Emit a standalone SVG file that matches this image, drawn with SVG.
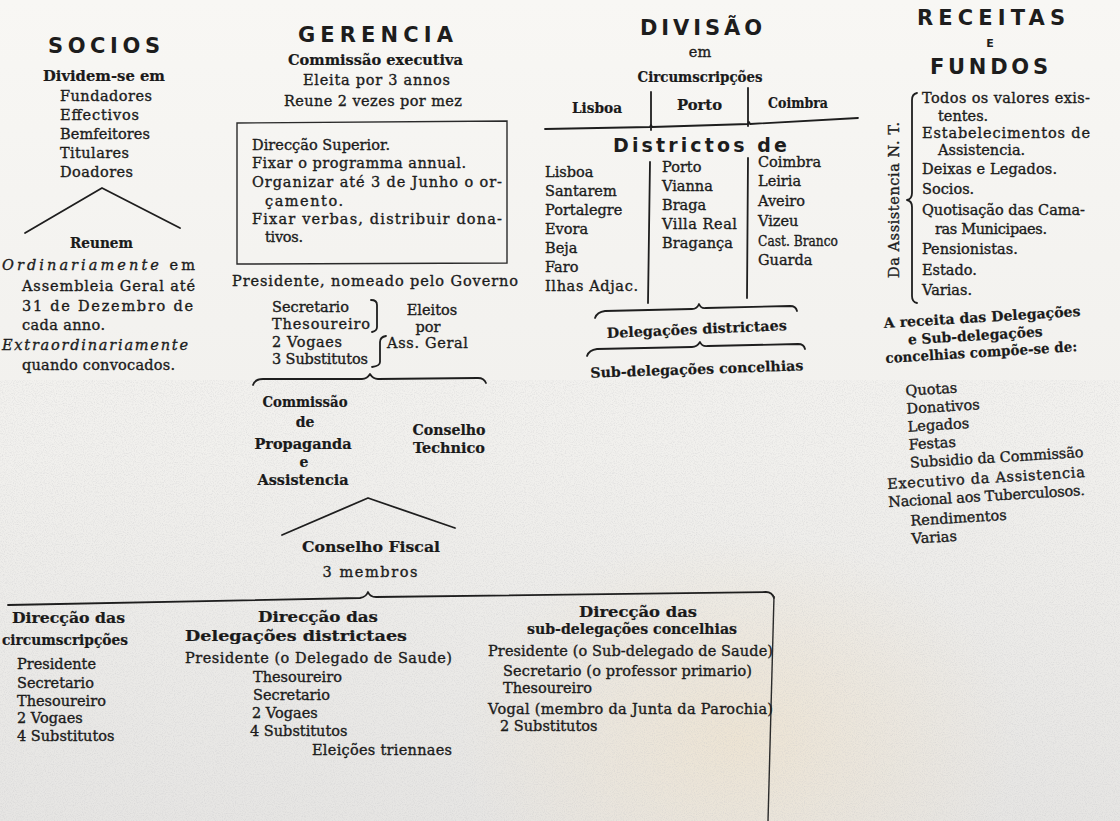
<svg xmlns="http://www.w3.org/2000/svg" width="1120" height="821" viewBox="0 0 1120 821">
<defs>
<linearGradient id="paper" x1="0" y1="0" x2="0" y2="1">
<stop offset="0" stop-color="#f8f7f4"/>
<stop offset="0.55" stop-color="#f1f0ed"/>
<stop offset="1" stop-color="#e6e5e3"/>
</linearGradient>
<radialGradient id="tint" cx="0.66" cy="0.9" r="0.25">
<stop offset="0" stop-color="#eee3cf" stop-opacity="0.8"/>
<stop offset="1" stop-color="#eee3cf" stop-opacity="0"/>
</radialGradient>
<filter id="grain" x="0" y="0" width="100%" height="100%">
<feTurbulence type="fractalNoise" baseFrequency="0.9" numOctaves="2" seed="3"/>
<feColorMatrix type="matrix" values="0 0 0 0 0.55  0 0 0 0 0.55  0 0 0 0 0.57  0 0 0 -2.2 1.25"/>
</filter>
<style>
.hd{font-family:"DejaVu Sans","Liberation Sans",sans-serif;font-weight:bold;font-size:21px;fill:#1d1d1d}
.t{font-family:"DejaVu Serif","Liberation Serif",serif;font-size:14.5px;fill:#1c1c1c;stroke:#1c1c1c;stroke-width:0.35}
.b{font-family:"DejaVu Serif","Liberation Serif",serif;font-weight:bold;font-size:14px;fill:#1a1a1a;stroke:#1a1a1a;stroke-width:0.2}
.i{font-style:italic}
.c{text-anchor:middle}
.ln{fill:none;stroke:#1e1e1e;stroke-width:1.8;stroke-linecap:round;stroke-linejoin:round}
.thin{fill:none;stroke:#2a2a2a;stroke-width:1.4}
</style>
</defs>
<rect width="1120" height="821" fill="url(#paper)"/>
<rect width="1120" height="821" fill="url(#tint)"/>
<rect y="380" width="1120" height="441" filter="url(#grain)" opacity="0.35"/>

<g id="connectors">
<path id="chevron-socios" class="ln" d="M25,233 L102,188 L180,228"/>
<path id="brace-gerencia" class="ln" d="M253,385 Q255,379 263,379 L362,379 Q367,379 370,374 Q373,379 378,379 L478,378 Q484,378 486,383"/>
<path id="chevron-fiscal" class="ln" d="M282,535 L368,498 L455,528"/>
<path id="bracket-eleitos-1" class="ln" d="M371,300 Q377,300 377,305 L377,327 Q377,331 372,332"/>
<path id="bracket-eleitos-2" class="ln" d="M386,336 Q380,337 380,342 L380,362 Q380,366 372,367"/>
<path id="divisao-rule" class="ln" d="M545,129 L650,127 L651,125 L652,127 L748,124 L749,122 L750,124 L858,118"/>
<path id="divider-head-1" class="ln" d="M651,92 L651,130"/>
<path id="divider-head-2" class="ln" d="M748,88 L748,126"/>
<path id="divider-col-1" class="ln" d="M650,162 L648,303"/>
<path id="divider-col-2" class="ln" d="M748,158 L747,298"/>
<path id="brace-delegacoes" class="ln" d="M595,318 Q597,312 605,311 L692,309 Q697,309 699,304 Q701,309 706,308 L790,306 Q796,306 797,311"/>
<path id="brace-sub" class="ln" d="M587,356 Q589,350 597,349 L692,347 Q697,347 700,342 Q702,347 708,346 L798,344 Q804,344 805,349"/>
<path id="brace-receitas" class="ln" d="M917,93 Q912,94 912,100 L912,193 Q912,199 907,200 Q912,201 912,207 L912,296 Q912,302 917,303"/>
<path id="bottom-rule" class="ln" d="M8,605 L360,598 Q366,597 368,592 Q370,597 376,597 L766,592 Q772,592 774,598"/>
<path id="bottom-vertical" class="thin" d="M774,596 L768,821"/>
</g>

<g id="socios">
<text class="hd" x="48" y="53" textLength="112" lengthAdjust="spacing">SOCIOS</text>
<text class="b" x="43" y="81" textLength="122" lengthAdjust="spacingAndGlyphs">Dividem-se em</text>
<text class="t" x="60" y="101" textLength="92">Fundadores</text>
<text class="t" x="60" y="120" textLength="79">Effectivos</text>
<text class="t" x="60" y="139" textLength="90">Bemfeitores</text>
<text class="t" x="60" y="158" textLength="69">Titulares</text>
<text class="t" x="60" y="177" textLength="73">Doadores</text>
</g>

<g id="socios-reunem">
<text class="b" x="70" y="248" textLength="63" lengthAdjust="spacingAndGlyphs">Reunem</text>
<text class="t" x="2" y="270" textLength="193"><tspan class="i">Ordinariamente</tspan> em</text>
<text class="t" x="22" y="291" textLength="173">Assembleia Geral até</text>
<text class="t" x="22" y="311" textLength="171">31 de Dezembro de</text>
<text class="t" x="22" y="330" textLength="83">cada anno.</text>
<text class="t i" x="2" y="350" textLength="186">Extraordinariamente</text>
<text class="t" x="22" y="370" textLength="153">quando convocados.</text>
</g>

<g id="gerencia">
<text class="hd" x="298" y="42" textLength="155" lengthAdjust="spacing">GERENCIA</text>
<text class="b" x="288" y="65" textLength="175" lengthAdjust="spacingAndGlyphs">Commissão executiva</text>
<text class="t" x="303" y="85" textLength="147">Eleita por 3 annos</text>
<text class="t" x="284" y="106" textLength="178">Reune 2 vezes por mez</text>
</g>

<g id="gerencia-box">
<path class="thin" d="M237,123 L507,121 L507,263 L237,264 Z"/>
<text class="t" x="252" y="150" textLength="138">Direcção Superior.</text>
<text class="t" x="252" y="168" textLength="214">Fixar o programma annual.</text>
<text class="t" x="252" y="187" textLength="250">Organizar até 3 de Junho o or-</text>
<text class="t" x="265" y="206" textLength="78">çamento.</text>
<text class="t" x="252" y="224" textLength="250">Fixar verbas, distribuir dona-</text>
<text class="t" x="265" y="242" textLength="38">tivos.</text>
</g>

<g id="gerencia-officers">
<text class="t" x="232" y="286" textLength="286">Presidente, nomeado pelo Governo</text>
<text class="t" x="272" y="312" textLength="77">Secretario</text>
<text class="t" x="272" y="329" textLength="98">Thesoureiro</text>
<text class="t" x="272" y="347" textLength="70">2 Vogaes</text>
<text class="t" x="272" y="364" textLength="96">3 Substitutos</text>
<text class="t c" x="432" y="315">Eleitos</text>
<text class="t c" x="428" y="332">por</text>
<text class="t" x="387" y="348" textLength="81">Ass. Geral</text>
</g>

<g id="commissao-propaganda">
<text class="b c" x="305" y="407" textLength="85" lengthAdjust="spacingAndGlyphs">Commissão</text>
<text class="b c" x="305" y="427">de</text>
<text class="b c" x="303" y="449" textLength="97" lengthAdjust="spacingAndGlyphs">Propaganda</text>
<text class="b c" x="304" y="467">e</text>
<text class="b c" x="303" y="485" textLength="91" lengthAdjust="spacingAndGlyphs">Assistencia</text>
</g>

<g id="conselho-technico">
<text class="b c" x="449" y="435" textLength="73" lengthAdjust="spacingAndGlyphs">Conselho</text>
<text class="b c" x="449" y="453" textLength="72" lengthAdjust="spacingAndGlyphs">Technico</text>
</g>

<g id="conselho-fiscal">
<text class="b c" x="371" y="552" textLength="138" lengthAdjust="spacingAndGlyphs">Conselho Fiscal</text>
<text class="t c" x="370" y="577" textLength="95">3 membros</text>
</g>

<g id="divisao">
<text class="hd" x="640" y="35" textLength="122" lengthAdjust="spacing">DIVISÃO</text>
<text class="t c" x="700" y="57">em</text>
<text class="b c" x="700" y="82" textLength="125" lengthAdjust="spacingAndGlyphs">Circumscripções</text>
<text class="b" x="572" y="113" textLength="50" lengthAdjust="spacingAndGlyphs">Lisboa</text>
<text class="b" x="677" y="110" textLength="45" lengthAdjust="spacingAndGlyphs">Porto</text>
<text class="b" x="768" y="108" textLength="60" lengthAdjust="spacingAndGlyphs">Coimbra</text>
</g>

<g id="districtos">
<text class="hd" x="613" y="152" style="font-size:19px" textLength="174" lengthAdjust="spacing">Districtos de</text>
<text class="t" x="545" y="177">Lisboa</text>
<text class="t" x="545" y="196">Santarem</text>
<text class="t" x="545" y="215">Portalegre</text>
<text class="t" x="545" y="234">Evora</text>
<text class="t" x="545" y="253">Beja</text>
<text class="t" x="545" y="272">Faro</text>
<text class="t" x="545" y="291" textLength="93">Ilhas Adjac.</text>
<text class="t" x="662" y="172">Porto</text>
<text class="t" x="662" y="191">Vianna</text>
<text class="t" x="662" y="210">Braga</text>
<text class="t" x="662" y="229" textLength="75">Villa Real</text>
<text class="t" x="662" y="248" textLength="71">Bragança</text>
<text class="t" x="758" y="167">Coimbra</text>
<text class="t" x="758" y="186">Leiria</text>
<text class="t" x="758" y="206">Aveiro</text>
<text class="t" x="758" y="226">Vizeu</text>
<text class="t" x="758" y="246" textLength="80" lengthAdjust="spacingAndGlyphs">Cast. Branco</text>
<text class="t" x="758" y="265">Guarda</text>
</g>

<g id="delegacoes">
<text class="b c" x="697" y="334" transform="rotate(-2.5 697 334)" textLength="180" lengthAdjust="spacingAndGlyphs">Delegações districtaes</text>
<text class="b c" x="697" y="374" transform="rotate(-2 697 374)" textLength="213" lengthAdjust="spacingAndGlyphs">Sub-delegações concelhias</text>
</g>

<g id="receitas">
<text class="hd" x="917" y="25" textLength="148" lengthAdjust="spacing">RECEITAS</text>
<text class="hd c" x="990" y="47" style="font-size:11px">E</text>
<text class="hd" x="930" y="74" textLength="118" lengthAdjust="spacing">FUNDOS</text>
<text class="t c" x="899" y="200" transform="rotate(-90 899 200)" textLength="156">Da Assistencia N. T.</text>
<text class="t" x="922" y="103" textLength="168">Todos os valores exis-</text>
<text class="t" x="938" y="121">tentes.</text>
<text class="t" x="922" y="138" textLength="168">Estabelecimentos   de</text>
<text class="t" x="938" y="155">Assistencia.</text>
<text class="t" x="922" y="174" textLength="135">Deixas e Legados.</text>
<text class="t" x="922" y="194">Socios.</text>
<text class="t" x="922" y="215" textLength="163">Quotisação das Cama-</text>
<text class="t" x="935" y="234" textLength="112">ras Municipaes.</text>
<text class="t" x="922" y="254">Pensionistas.</text>
<text class="t" x="922" y="275">Estado.</text>
<text class="t" x="922" y="295">Varias.</text>
</g>

<g id="receita-delegacoes" transform="rotate(-3.5 985 430)">
<text class="b c" x="989" y="322" textLength="197" lengthAdjust="spacingAndGlyphs">A receita das Delegações</text>
<text class="b c" x="981" y="340" textLength="135" lengthAdjust="spacingAndGlyphs">e Sub-delegações</text>
<text class="b c" x="986" y="357" textLength="192" lengthAdjust="spacingAndGlyphs">concelhias compõe-se de:</text>
<text class="t" x="908" y="391">Quotas</text>
<text class="t" x="908" y="409">Donativos</text>
<text class="t" x="908" y="427">Legados</text>
<text class="t" x="908" y="445">Festas</text>
<text class="t" x="908" y="463" textLength="174">Subsidio da Commissão</text>
<text class="t" x="884" y="483" textLength="198">Executivo  da  Assistencia</text>
<text class="t" x="884" y="501" textLength="197">Nacional aos Tuberculosos.</text>
<text class="t" x="905" y="521">Rendimentos</text>
<text class="t" x="905" y="539">Varias</text>
</g>

<g id="direccao-circumscripcoes">
<text class="b" x="12" y="623" textLength="113" lengthAdjust="spacingAndGlyphs">Direcção das</text>
<text class="b" x="2" y="645" textLength="126" lengthAdjust="spacingAndGlyphs">circumscripções</text>
<text class="t" x="17" y="669">Presidente</text>
<text class="t" x="17" y="688">Secretario</text>
<text class="t" x="17" y="706">Thesoureiro</text>
<text class="t" x="17" y="723">2 Vogaes</text>
<text class="t" x="17" y="741">4 Substitutos</text>
</g>

<g id="direccao-delegacoes">
<text class="b c" x="318" y="622" textLength="120" lengthAdjust="spacingAndGlyphs">Direcção das</text>
<text class="b c" x="296" y="641" textLength="222" lengthAdjust="spacingAndGlyphs">Delegações districtaes</text>
<text class="t" x="185" y="663" textLength="267">Presidente (o Delegado de Saude)</text>
<text class="t" x="253" y="682">Thesoureiro</text>
<text class="t" x="253" y="700">Secretario</text>
<text class="t" x="252" y="718">2 Vogaes</text>
<text class="t" x="250" y="736">4 Substitutos</text>
<text class="t" x="312" y="755" textLength="140">Eleições triennaes</text>
</g>

<g id="direccao-subdelegacoes">
<text class="b c" x="638" y="617" textLength="118" lengthAdjust="spacingAndGlyphs">Direcção das</text>
<text class="b c" x="632" y="634" textLength="210" lengthAdjust="spacingAndGlyphs">sub-delegações concelhias</text>
<text class="t" x="488" y="656" textLength="285">Presidente (o Sub-delegado de Saude)</text>
<text class="t" x="503" y="676" textLength="249">Secretario (o professor primario)</text>
<text class="t" x="503" y="693">Thesoureiro</text>
<text class="t" x="488" y="714" textLength="285">Vogal (membro da Junta da Parochia)</text>
<text class="t" x="500" y="731">2 Substitutos</text>
</g>
</svg>
